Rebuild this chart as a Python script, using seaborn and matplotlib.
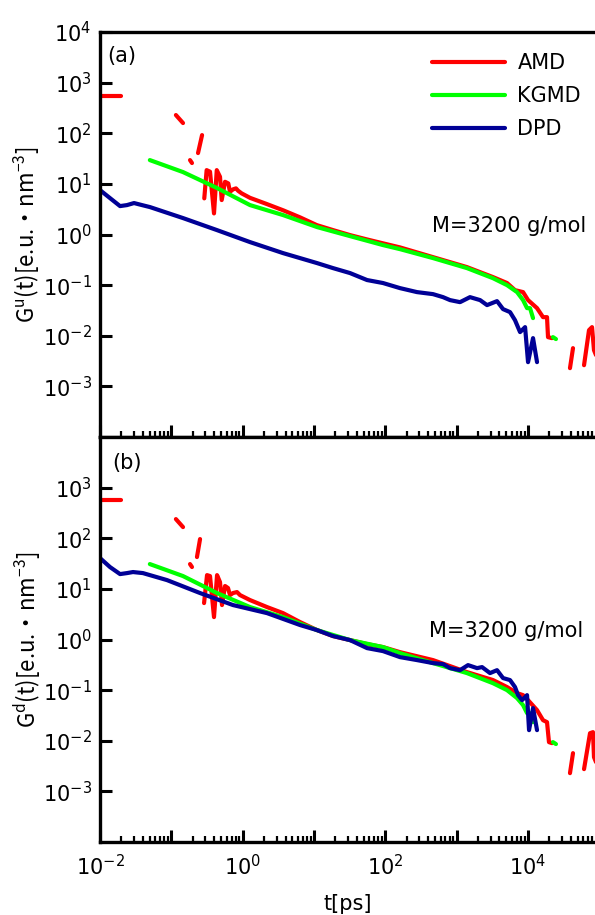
import numpy as np
import pandas as pd
import matplotlib
matplotlib.use("Agg")
import matplotlib.pyplot as plt
import seaborn as sns
from matplotlib.ticker import FixedLocator, LogLocator, FuncFormatter, NullLocator, NullFormatter

# ---------------- data ----------------
models = ["AMD", "KGMD", "DPD"]
colors = {"AMD": "#ff0000", "KGMD": "#00ff00", "DPD": "#000096"}

# panel (a): G^u(t)
amd_a_t = [0.01, 0.0197,
           0.116, 0.146,
           0.183, 0.195,
           0.237, 0.270,
           0.290, 0.313, 0.349, 0.397, 0.434, 0.482, 0.509, 0.567, 0.630, 0.665, 0.734,
           0.807, 0.866, 0.970, 1.27, 2.18, 3.72, 6.39, 11.0, 18.6, 32.1, 55.3, 94, 161,
           468, 1400, 3250, 5110, 6610, 8570, 10070, 13460, 16330, 18580, 19190, 21830,
           39000, 43000,
           61400, 72100, 79500, 84700, 90400]
amd_a_G = [543, 543,
           229, 159,
           29.5, 25.8,
           40.6, 92,
           5.17, 18.7, 17.4, 2.61, 18.7, 13.8, 4.79, 11.0, 10.2, 6.98, 7.79,
           8.15, 7.31, 6.49, 5.3, 4.0, 3.0, 2.18, 1.53, 1.22, 0.973, 0.80, 0.667, 0.556,
           0.357, 0.227, 0.144, 0.110, 0.0796, 0.0728, 0.0506, 0.0351, 0.0233, 0.0233, 0.00938, 0.00897,
           0.00229, 0.00569,
           0.00262, 0.0129, 0.0148, 0.00519, 0.00414]
amd_a_seg = [0] * 2 + [1] * 2 + [2] * 2 + [3] * 2 + [4] * 36 + [5] * 2 + [6] * 5

kg_a_t = [0.05, 0.146, 0.438, 1.27, 3.69, 11.1, 32.1, 93.1, 161, 468, 1400, 3250,
          5110, 7060, 8570, 9750, 10740, 11830, 22500, 24800]
kg_a_G = [29.5, 17.1, 8.27, 3.81, 2.42, 1.40, 0.929, 0.618, 0.514, 0.342, 0.217, 0.137,
          0.100, 0.0728, 0.0506, 0.0351, 0.0351, 0.0223, 0.0094, 0.0086]
kg_a_seg = [0] * 18 + [1] * 2

dpd_a_t = [0.01, 0.0138, 0.0191, 0.0239, 0.0300, 0.0388, 0.0502, 0.146, 0.438, 1.27, 3.69,
           11.1, 18.5, 32.1, 55.6, 93.1, 161, 279, 468, 647, 811, 1120, 1545, 2140, 2680,
           3700, 4490, 5630, 6610, 7780, 9150, 10070, 11830, 13460]
dpd_a_G = [7.54, 5.24, 3.64, 3.81, 4.18, 3.81, 3.48, 2.11, 1.22, 0.708, 0.429,
           0.272, 0.217, 0.173, 0.126, 0.110, 0.0873, 0.0728, 0.0664, 0.0579, 0.0506, 0.0461,
           0.0579, 0.0506, 0.0403, 0.0483, 0.0336, 0.0293, 0.0203, 0.0118, 0.0148, 0.00301,
           0.00897, 0.00301]
dpd_a_seg = [0] * len(dpd_a_t)

# panel (b): G^d(t)
amd_b_t = [0.01, 0.0197,
           0.116, 0.146,
           0.183, 0.195,
           0.229, 0.253,
           0.288, 0.317, 0.349, 0.397, 0.438, 0.482, 0.514, 0.567, 0.624, 0.665, 0.733,
           0.834, 0.92, 1.27, 2.20, 3.69, 6.39, 11.1, 18.5, 32.1, 55.6, 93.1, 161, 468,
           1400, 3250, 5110, 7060, 8570, 10070, 13460, 16330, 18580, 19800, 21830,
           39000, 43000,
           61400, 74500, 82000, 84700, 90400]
amd_b_G = [569, 569,
           239, 166,
           30.9, 27.0,
           42.5, 96.4,
           5.24, 18.7, 17.9, 2.77, 18.7, 13.6, 4.79, 11.4, 10.4, 7.54, 8.27,
           8.65, 7.54, 6.01, 4.37, 3.32, 2.21, 1.53, 1.17, 0.973, 0.811, 0.708, 0.563, 0.392,
           0.227, 0.158, 0.115, 0.0873, 0.0796, 0.0634, 0.0403, 0.0255, 0.0233, 0.00938, 0.00897,
           0.00229, 0.00569,
           0.00275, 0.0141, 0.0148, 0.00474, 0.00378]
amd_b_seg = [0] * 2 + [1] * 2 + [2] * 2 + [3] * 2 + [4] * 35 + [5] * 2 + [6] * 5

kg_b_t = [0.05, 0.146, 0.438, 1.27, 3.69, 11.1, 32.1, 93.1, 161, 468, 1400, 3250,
          5110, 7060, 8570, 9750, 10740, 11830, 22500, 24800]
kg_b_G = [30.9, 17.9, 8.27, 4.37, 2.77, 1.53, 0.973, 0.708, 0.538, 0.342, 0.217, 0.137,
          0.100, 0.0695, 0.0506, 0.0351, 0.0351, 0.0233, 0.0094, 0.0086]
kg_b_seg = [0] * 18 + [1] * 2

dpd_b_t = [0.01, 0.0138, 0.0191, 0.0239, 0.029, 0.040, 0.0871, 0.253, 0.733, 2.20, 6.39,
           11.1, 18.5, 32.1, 55.6, 93.1, 161, 279, 468, 647, 811, 1120, 1450, 1940, 2280,
           2950, 3700, 4490, 5630, 6610, 7290, 8300, 9750, 10400, 11830, 13460]
dpd_b_G = [40.6, 27.0, 19.6, 20.5, 21.5, 20.5, 14.9, 8.27, 4.79, 3.32, 1.93,
           1.53, 1.17, 0.973, 0.676, 0.590, 0.449, 0.392, 0.342, 0.327, 0.272, 0.248,
           0.312, 0.272, 0.285, 0.217, 0.248, 0.173, 0.158, 0.115, 0.0796, 0.0634, 0.0796,
           0.0162, 0.0441, 0.0162]
dpd_b_seg = [0] * len(dpd_b_t)

x_limits = (1e-2, 8.75e4)
y_limits = (1e-4, 1e4)
x_major_exps = list(range(-2, 5))
y_exps_a = list(range(-3, 5))
y_exps_b = list(range(-3, 4))
annotation = "M=3200 g/mol"
ylabel_a = r"G$^{\mathregular{u}}$(t)[e.u.・nm$^{\mathregular{-3}}$]"
ylabel_b = r"G$^{\mathregular{d}}$(t)[e.u.・nm$^{\mathregular{-3}}$]"
xlabel = "t[ps]"


def frame(parts):
    rows = []
    for name, t, g, seg in parts:
        rows.append(pd.DataFrame({"t": t, "G": g, "model": name, "seg": seg}))
    return pd.concat(rows, ignore_index=True)


df_a = frame([("AMD", amd_a_t, amd_a_G, amd_a_seg),
              ("KGMD", kg_a_t, kg_a_G, kg_a_seg),
              ("DPD", dpd_a_t, dpd_a_G, dpd_a_seg)])
df_b = frame([("AMD", amd_b_t, amd_b_G, amd_b_seg),
              ("KGMD", kg_b_t, kg_b_G, kg_b_seg),
              ("DPD", dpd_b_t, dpd_b_G, dpd_b_seg)])

# ---------------- style ----------------
sns.set_style("white")
plt.rcParams["font.family"] = ["DejaVu Sans", "Noto Sans CJK JP"]
plt.rcParams["mathtext.default"] = "regular"
plt.rcParams["axes.unicode_minus"] = False
for key in ["text.color", "axes.labelcolor", "xtick.color", "ytick.color", "axes.edgecolor"]:
    plt.rcParams[key] = "black"

W, H = 595, 915
fig = plt.figure(figsize=(W / 100, H / 100), dpi=100)
ax_a = fig.add_axes([100 / W, 1 - 437 / H, 495 / W, 405 / H])
ax_b = fig.add_axes([100 / W, 1 - 842 / H, 495 / W, 405 / H])

for ax, df, show_leg in [(ax_a, df_a, True), (ax_b, df_b, False)]:
    sns.lineplot(data=df, x="t", y="G", hue="model", hue_order=models, units="seg",
                 estimator=None, sort=False, palette=colors, linewidth=3.0,
                 legend=show_leg, ax=ax)
    ax.set_xscale("log")
    ax.set_yscale("log")
    ax.set_xlim(*x_limits)
    ax.set_ylim(*y_limits)
    ax.set_xlabel("")
    ax.set_ylabel("")
    for s in ["left", "top", "bottom"]:
        ax.spines[s].set_linewidth(2.4)
        ax.spines[s].set_color("black")
    ax.spines["right"].set_visible(False)
    ax.xaxis.set_major_locator(FixedLocator([10.0 ** k for k in x_major_exps]))
    ax.xaxis.set_minor_locator(LogLocator(base=10, subs=np.arange(2, 10), numticks=20))
    ax.xaxis.set_minor_formatter(NullFormatter())
    ax.yaxis.set_minor_locator(NullLocator())
    ax.tick_params(axis="both", which="both", bottom=True, left=True, top=False, right=False)
    ax.tick_params(axis="both", which="major", direction="in", length=8.6, width=2.2,
                   labelsize=15, color="black", labelcolor="black")
    ax.tick_params(axis="x", which="minor", direction="in", length=4.6, width=1.6, color="black")
    ax.tick_params(axis="y", pad=6)
    ax.tick_params(axis="x", pad=9)
    ax.yaxis.set_major_formatter(FuncFormatter(
        lambda v, p: r"$\mathregular{10^{%d}}$" % int(round(np.log10(v)))))
    ax.set_facecolor("white")

ax_a.yaxis.set_major_locator(FixedLocator([10.0 ** k for k in y_exps_a]))
ax_b.yaxis.set_major_locator(FixedLocator([10.0 ** k for k in y_exps_b]))
ax_a.tick_params(axis="x", labelbottom=False)
ax_b.xaxis.set_major_formatter(FuncFormatter(
    lambda v, p: (r"$\mathregular{10^{%d}}$" % int(round(np.log10(v))))
    if int(round(np.log10(v))) % 2 == 0 else ""))

sns.move_legend(ax_a, "upper left", bbox_to_anchor=(432 / W, 1 - 53 / H),
                bbox_transform=fig.transFigure, frameon=False, title=None,
                fontsize=15, handlelength=3.5, handletextpad=0.6, labelspacing=0.62,
                borderpad=0, borderaxespad=0)
for line in ax_a.get_legend().get_lines():
    line.set_linewidth(3.0)
for txt in ax_a.get_legend().get_texts():
    txt.set_color("black")

ax_a.text(0.014, 0.926, "(a)", transform=ax_a.transAxes, fontsize=15, va="baseline", ha="left")
ax_b.text(0.024, 0.921, "(b)", transform=ax_b.transAxes, fontsize=15, va="baseline", ha="left")
ax_a.text(0.982, 0.506, annotation, transform=ax_a.transAxes, fontsize=15,
          va="baseline", ha="right")
ax_b.text(0.976, 0.506, annotation, transform=ax_b.transAxes, fontsize=15,
          va="baseline", ha="right")

fig.text(27 / W, 1 - 234.5 / H, ylabel_a, family="Noto Sans CJK JP",
         rotation=90, ha="center", va="center", fontsize=16)
fig.text(27 / W, 1 - 639.5 / H, ylabel_b, family="Noto Sans CJK JP",
         rotation=90, ha="center", va="center", fontsize=16)
fig.text(347.5 / W, 1 - 904 / H, xlabel, ha="center", va="center", fontsize=15)

fig.savefig("out.png", dpi=100, facecolor="white")
